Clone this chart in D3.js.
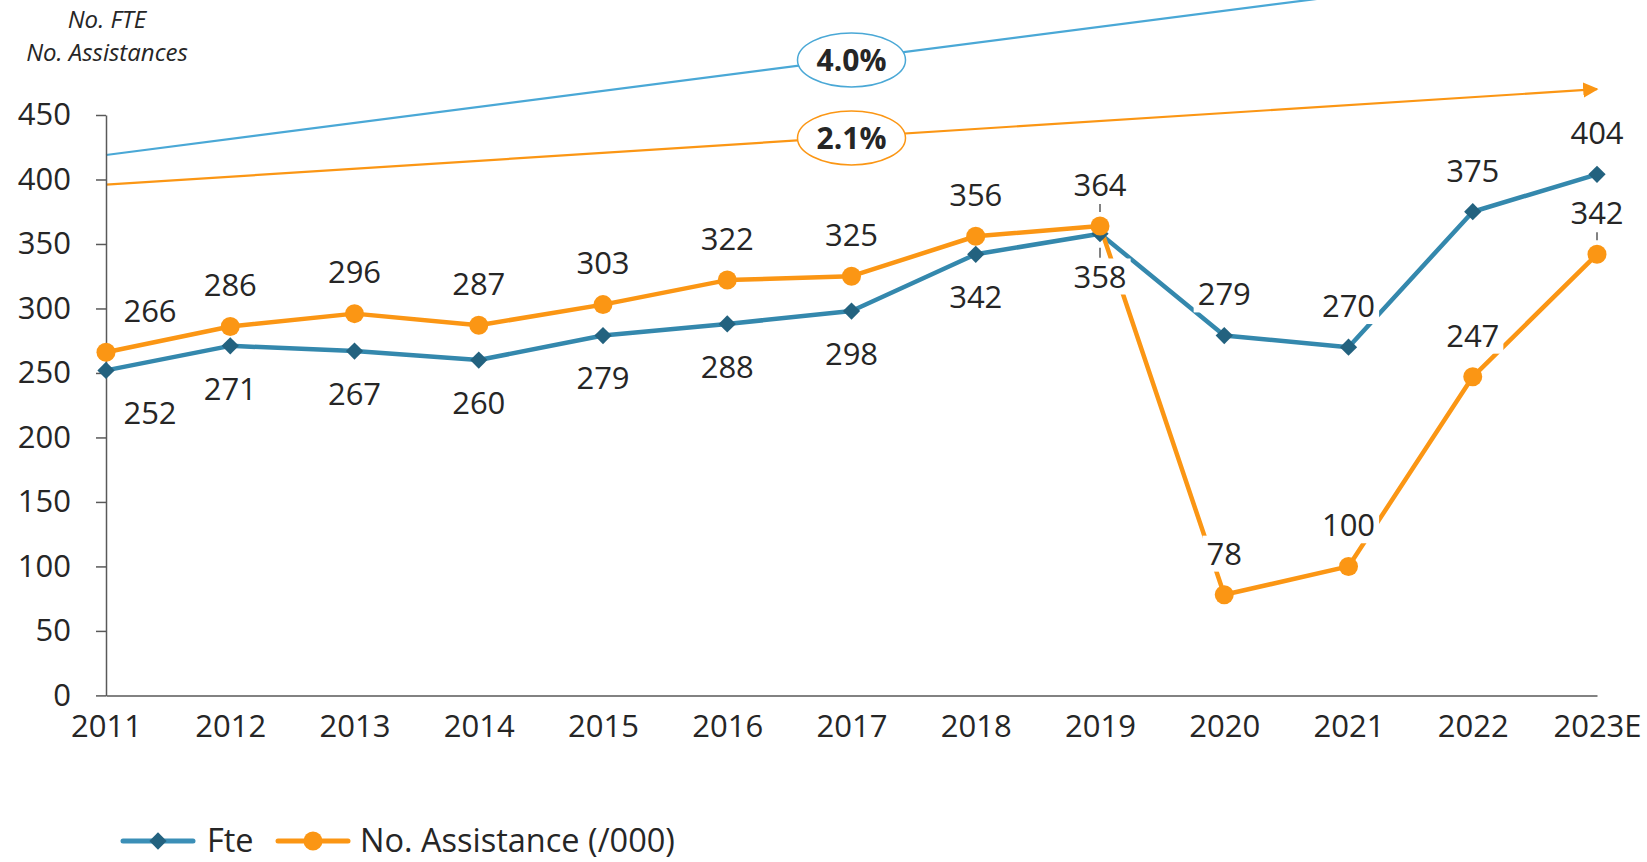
<!DOCTYPE html>
<html>
<head>
<meta charset="utf-8">
<script src="https://cdn.jsdelivr.net/npm/d3@7"></script>
<style>
  body { margin: 0; background: #fff; }
  svg { display: block; font-family: 'Open Sans', sans-serif; }
  .tick text { font-size: 31px; fill: #262626; font-family: 'Open Sans', sans-serif; }
  .label { font-size: 31px; fill: #262626; }
</style>
</head>
<body>
<svg width="1647" height="862"></svg>
<script>
// data
const years = ['2011', '2012', '2013', '2014', '2015', '2016', '2017', '2018', '2019', '2020', '2021', '2022', '2023E'];
const fte = [252, 271, 267, 260, 279, 288, 298, 342, 358, 279, 270, 375, 404];
const assistance = [266, 286, 296, 287, 303, 322, 325, 356, 364, 78, 100, 247, 342];
const fteTrend = [419, 568];
const assistanceTrend = [396, 470];
const trendLabels = ['4.0%', '2.1%'];
const yTicks = [0, 50, 100, 150, 200, 250, 300, 350, 400, 450];
const seriesNames = ['Fte', 'No. Assistance (/000)'];

// label placement
const fteSide = ['below', 'below', 'below', 'below', 'below', 'below', 'below', 'below', 'below', 'above', 'above', 'above', 'above'];
const assistanceSide = years.map(() => 'above');
const fteLeaders = ['2019'];
const assistanceLeaders = ['2019', '2023E'];

const svg = d3.select('svg');
const blue = '#3488ad';
const blueDark = '#23627f';
const orange = '#fb9614';
const trendBlue = '#4aa8d6';

const x = d3.scalePoint()
	.domain(years)
	.range([106, 1597]);

const y = d3.scaleLinear()
	.domain([0, 450])
	.range([695.4, 115]);

// trend arrows
svg.append('defs').selectAll('marker')
	.data([['arrowBlue', trendBlue], ['arrowOrange', orange]])
	.enter().append('marker')
		.attr('id', d => d[0])
		.attr('viewBox', '0 0 10 10')
		.attr('refX', 9).attr('refY', 5)
		.attr('markerWidth', 7).attr('markerHeight', 7)
		.attr('markerUnits', 'strokeWidth')
		.attr('orient', 'auto')
	.append('path')
		.attr('d', 'M0,0L10,5L0,10Z')
		.attr('fill', d => d[1]);

const trends = [
	{values: fteTrend, color: trendBlue, marker: 'arrowBlue', label: trendLabels[0]},
	{values: assistanceTrend, color: orange, marker: 'arrowOrange', label: trendLabels[1]}
];

const x0 = x(years[0]);
const x1 = x(years[years.length - 1]);
const mid = years[6];

trends.forEach(t => {
	svg.append('line')
		.attr('x1', x0).attr('y1', y(t.values[0]))
		.attr('x2', x1).attr('y2', y(t.values[1]))
		.attr('stroke', t.color)
		.attr('stroke-width', 2.2)
		.attr('marker-end', `url(#${t.marker})`);
	const f = (x(mid) - x0) / (x1 - x0);
	const cy = y(t.values[0] + f * (t.values[1] - t.values[0]));
	svg.append('ellipse')
		.attr('cx', x(mid)).attr('cy', cy + 1)
		.attr('rx', 54).attr('ry', 27)
		.attr('fill', '#fff')
		.attr('stroke', t.color)
		.attr('stroke-width', 1.5);
	svg.append('text')
		.attr('x', x(mid)).attr('y', cy + 1)
		.attr('dy', '0.36em')
		.attr('text-anchor', 'middle')
		.attr('font-size', 30)
		.attr('font-weight', 'bold')
		.attr('fill', '#262626')
		.text(t.label);
});

// axes
const yAxisG = svg.append('g')
	.attr('transform', `translate(${x0},0)`)
	.call(d3.axisLeft(y).tickValues(yTicks).tickSize(10).tickSizeOuter(0).tickPadding(25));

const xAxisG = svg.append('g')
	.attr('transform', `translate(0,${y(0)})`)
	.call(d3.axisBottom(x).tickSize(0).tickSizeOuter(0).tickPadding(20));

[yAxisG, xAxisG].forEach(g => {
	g.attr('font-family', null).attr('font-size', null);
	g.selectAll('.domain, .tick line').attr('stroke', '#595959').attr('stroke-width', 1.5);
});

// axis title
svg.append('g')
	.attr('font-style', 'italic')
	.attr('font-size', 24)
	.attr('fill', '#262626')
	.attr('text-anchor', 'middle')
	.selectAll('text')
	.data(['No. FTE', 'No. Assistances'])
	.enter().append('text')
		.attr('x', 107)
		.attr('y', (d, i) => 28 + i * 33)
		.text(d => d);

// series lines
const line = d3.line()
	.x((d, i) => x(years[i]))
	.y(d => y(d));

svg.append('path')
	.datum(fte)
	.attr('d', line)
	.attr('fill', 'none')
	.attr('stroke', blue)
	.attr('stroke-width', 4.5)
	.attr('stroke-linejoin', 'round');

svg.append('path')
	.datum(assistance)
	.attr('d', line)
	.attr('fill', 'none')
	.attr('stroke', orange)
	.attr('stroke-width', 4.5)
	.attr('stroke-linejoin', 'round');

const diamond = d3.symbol().type(d3.symbolDiamond2).size(190);

svg.selectAll('.fte-pt').data(fte)
	.enter().append('path')
		.attr('class', 'fte-pt')
		.attr('d', diamond)
		.attr('transform', (d, i) => `translate(${x(years[i])},${y(d)})`)
		.attr('fill', blueDark);

svg.selectAll('.ass-pt').data(assistance)
	.enter().append('circle')
		.attr('class', 'ass-pt')
		.attr('cx', (d, i) => x(years[i]))
		.attr('cy', d => y(d))
		.attr('r', 9.5)
		.attr('fill', orange);

// data labels
const addLabels = (values, sides, leaders) => {
	values.forEach((v, i) => {
		const px = x(years[i]);
		const py = y(v);
		const dx = i === 0 ? 44 : 0;
		const ly = sides[i] === 'above' ? py - 41 : py + 43;
		const g = svg.append('g');
		const rect = g.append('rect').attr('fill', '#fff');
		const t = g.append('text')
			.attr('class', 'label')
			.attr('x', px + dx)
			.attr('y', ly)
			.attr('dy', '0.35em')
			.attr('text-anchor', 'middle')
			.text(v);
		const b = t.node().getBBox();
		rect.attr('x', b.x - 4).attr('y', b.y + 4)
			.attr('width', b.width + 8).attr('height', b.height - 6);
		if (leaders.includes(years[i])) {
			const y1 = sides[i] === 'above' ? ly + 19 : ly - 19;
			const y2 = sides[i] === 'above' ? py - 14 : py + 14;
			svg.append('line')
				.attr('x1', px).attr('x2', px)
				.attr('y1', y1).attr('y2', y2)
				.attr('stroke', '#595959')
				.attr('stroke-width', 1.5);
		}
	});
};

addLabels(fte, fteSide, fteLeaders);
addLabels(assistance, assistanceSide, assistanceLeaders);

// legend
const legend = svg.append('g').attr('transform', 'translate(0,841)');
const legendItems = [
	{name: seriesNames[0], x: 123, color: '#3b8fb7', textX: 207},
	{name: seriesNames[1], x: 278, color: orange, textX: 360}
];
legendItems.forEach((item, i) => {
	legend.append('line')
		.attr('x1', item.x).attr('x2', item.x + 70)
		.attr('y1', 0).attr('y2', 0)
		.attr('stroke', item.color)
		.attr('stroke-width', 5)
		.attr('stroke-linecap', 'round');
	if (i === 0) {
		legend.append('path')
			.attr('d', diamond)
			.attr('transform', `translate(${item.x + 35},0)`)
			.attr('fill', blueDark);
	} else {
		legend.append('circle')
			.attr('cx', item.x + 35).attr('cy', 0)
			.attr('r', 9.5)
			.attr('fill', orange);
	}
	legend.append('text')
		.attr('x', item.textX)
		.attr('y', 0)
		.attr('dy', '0.35em')
		.attr('font-size', 32.5)
		.attr('fill', '#262626')
		.text(item.name);
});
</script>
</body>
</html>
